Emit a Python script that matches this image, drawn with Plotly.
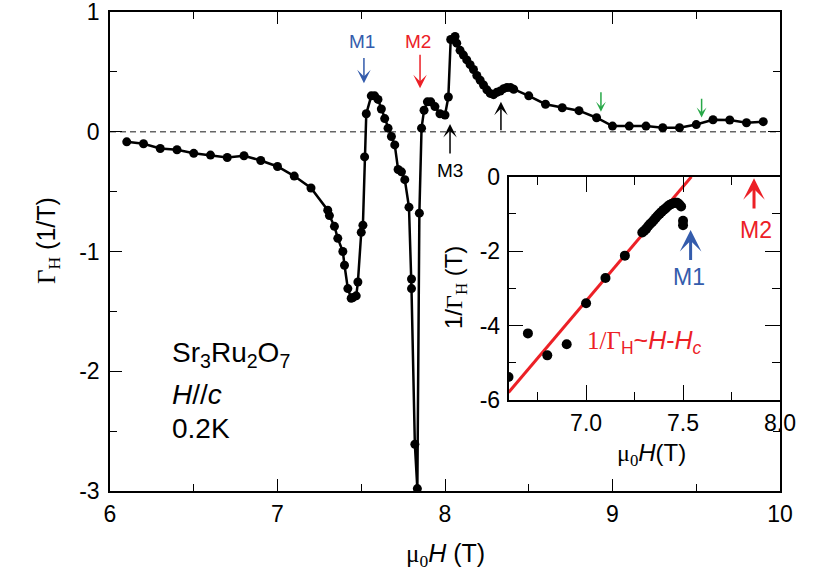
import plotly.graph_objects as go

# ---------------- main panel data ----------------
h_main = [6.10, 6.20, 6.30, 6.40, 6.50, 6.60, 6.70, 6.80, 6.90, 7.00, 7.10, 7.20,
          7.30, 7.31, 7.34, 7.36, 7.39, 7.40, 7.42, 7.44, 7.45, 7.47, 7.48,
          7.50, 7.51, 7.52, 7.53,
          7.56, 7.58, 7.60, 7.62, 7.64, 7.66, 7.68, 7.70,
          7.72, 7.74, 7.76,
          7.785, 7.80, 7.80, 7.82, 7.835, 7.847,
          7.86, 7.875, 7.895, 7.915, 7.94, 7.97, 8.00, 8.02, 8.034, 8.06,
          8.07, 8.09, 8.11, 8.13, 8.15, 8.17, 8.19, 8.21, 8.23, 8.25, 8.27, 8.29,
          8.31, 8.33, 8.35, 8.37, 8.39, 8.41,
          8.50, 8.60, 8.70, 8.80, 8.905,
          9.00, 9.10, 9.20, 9.30, 9.40, 9.50, 9.60, 9.70, 9.80, 9.90]
gamma_main = [-0.084, -0.10, -0.14, -0.15, -0.18, -0.195, -0.215, -0.20, -0.24, -0.29, -0.37, -0.47,
              -0.655, -0.70, -0.79, -0.89, -1.00, -1.115, -1.31, -1.39, -1.385, -1.37, -1.255,
              -0.84, -0.78, -0.21, 0.15,
              0.30, 0.30, 0.27, 0.19, 0.11, 0.03, -0.04, -0.11,
              -0.315, -0.335, -0.40,
              -0.63, -1.23, -1.31, -2.61, -2.98, -0.68,
              0.03, 0.18, 0.25, 0.25, 0.21, 0.15, 0.14, 0.29, 0.77, 0.795,
              0.74, 0.68, 0.64, 0.60, 0.56, 0.52, 0.47, 0.43, 0.39, 0.35, 0.32, 0.31,
              0.33, 0.34, 0.36, 0.37, 0.37, 0.355,
              0.30, 0.23, 0.20, 0.176, 0.117,
              0.047, 0.047, 0.047, 0.033, 0.033, 0.06, 0.10, 0.098, 0.075, 0.084]

main_x_ticks = [6, 7, 8, 9, 10]
main_x_ticktext = ["6", "7", "8", "9", "10"]
main_y_ticks = [1, 0, -1, -2, -3]
main_y_ticktext = ["1", "0", "-1", "-2", "-3"]

# ---------------- inset data ----------------
h_inset = [6.60, 6.70, 6.80, 6.90, 7.00, 7.10, 7.20,
           7.29, 7.30, 7.31, 7.32, 7.33, 7.34, 7.35, 7.36, 7.37, 7.38, 7.39, 7.40,
           7.41, 7.42, 7.43, 7.44, 7.45, 7.46, 7.47, 7.48, 7.49, 7.50, 7.50]
inv_gamma_inset = [-5.38, -4.21, -4.80, -4.50, -3.40, -2.72, -2.12,
                   -1.50, -1.45, -1.40, -1.33, -1.27, -1.22, -1.16, -1.10, -1.04, -0.99, -0.94, -0.89,
                   -0.85, -0.80, -0.76, -0.73, -0.71, -0.70, -0.70, -0.74, -0.80, -1.18, -1.30]
fit_h = [6.60, 7.543]
fit_inv_gamma = [-5.80, 0.0]

inset_x_ticks = [7.0, 7.5, 8.0]
inset_x_ticktext = ["7.0", "7.5", "8.0"]
inset_y_ticks = [0, -2, -4, -6]
inset_y_ticktext = ["0", "-2", "-4", "-6"]

BLUE = "rgb(52,92,172)"
RED = "rgb(236,32,38)"
GREEN = "rgb(40,168,72)"
FONT = "Liberation Sans, Arial, sans-serif"
SERIF = "Liberation Serif, Times New Roman, serif"

fig = go.Figure()

fig.add_trace(go.Scatter(
    x=h_main, y=gamma_main, mode="lines+markers",
    line=dict(color="black", width=2.5),
    marker=dict(color="black", size=9),
    xaxis="x", yaxis="y", showlegend=False))

fig.add_trace(go.Scatter(
    x=fit_h, y=fit_inv_gamma, mode="lines",
    line=dict(color=RED, width=3),
    xaxis="x2", yaxis="y2", showlegend=False))

fig.add_trace(go.Scatter(
    x=h_inset, y=inv_gamma_inset, mode="markers",
    marker=dict(color="black", size=10),
    xaxis="x2", yaxis="y2", showlegend=False))

axis_common = dict(showline=True, linecolor="black", linewidth=1.6, mirror="ticks",
                   ticks="inside", tickcolor="black", tickwidth=1.3,
                   showgrid=False, zeroline=False, automargin=False,
                   ticklabeloverflow="allow",
                   tickfont=dict(family=FONT, size=23, color="black"))

fig.update_layout(
    template="none",
    width=830, height=587,
    margin=dict(l=110, r=50, t=12, b=96, autoexpand=False),
    paper_bgcolor="white", plot_bgcolor="white",
    font=dict(family=FONT, color="black"),
    showlegend=False,
    xaxis=dict(range=[6, 10], tickvals=main_x_ticks, ticktext=main_x_ticktext,
               ticklen=12, ticklabelstandoff=2,
               minor=dict(dtick=0.5, tick0=6, ticks="inside", ticklen=7, tickcolor="black", tickwidth=1.3),
               domain=[0, 1], anchor="y", **axis_common),
    yaxis=dict(range=[-3, 1], tickvals=main_y_ticks, ticktext=main_y_ticktext,
               ticklen=12, ticklabelstandoff=4,
               minor=dict(dtick=0.5, tick0=0, ticks="inside", ticklen=7, tickcolor="black", tickwidth=1.3),
               domain=[0, 1], anchor="x", **axis_common),
    xaxis2=dict(range=[6.6, 8.0], tickvals=inset_x_ticks, ticktext=inset_x_ticktext,
                ticklen=15, ticklabelstandoff=2,
                minor=dict(dtick=0.25, tick0=7.0, ticks="inside", ticklen=8, tickcolor="black", tickwidth=1.3),
                domain=[0.5948, 1.0], anchor="y2", **axis_common),
    yaxis2=dict(range=[-6, 0], tickvals=inset_y_ticks, ticktext=inset_y_ticktext,
                ticklen=15, ticklabelstandoff=2,
                minor=dict(dtick=1, tick0=0, ticks="inside", ticklen=8, tickcolor="black", tickwidth=1.3),
                domain=[0.190, 0.656], anchor="x2", **axis_common),
)

# dashed zero line
fig.add_shape(type="line", xref="x", yref="y", x0=6, x1=10, y0=0, y1=0,
              line=dict(color="#666666", width=1.3, dash="6px,4px"), layer="below")

ann = []
# axis titles
ann.append(dict(xref="paper", yref="paper", x=0.5, y=-0.1336, xanchor="center", yanchor="middle",
                text=f"<span style='font-family:{SERIF}'>μ<sub>0</sub></span><i>H</i> (T)",
                showarrow=False, font=dict(family=FONT, size=25, color="black")))
ann.append(dict(xref="paper", yref="paper", x=-0.0925, y=0.522, xanchor="center", yanchor="middle",
                textangle=-90,
                text=f"<span style='font-family:{SERIF}'>Γ<sub>H</sub></span> (1/T)",
                showarrow=False, font=dict(family=FONT, size=25, color="black")))
ann.append(dict(xref="paper", yref="paper", x=0.8075, y=0.0752, xanchor="center", yanchor="middle",
                text=f"<span style='font-family:{SERIF}'>μ<sub>0</sub></span><i>H</i>(T)",
                showarrow=False, font=dict(family=FONT, size=24, color="black")))
ann.append(dict(xref="paper", yref="paper", x=0.5164, y=0.4259, xanchor="center", yanchor="middle",
                textangle=-90,
                text=f"1/<span style='font-family:{SERIF}'>Γ<sub>H</sub></span> (T)",
                showarrow=False, font=dict(family=FONT, size=24, color="black")))

# sample text
for txt, yv in [("Sr<sub>3</sub>Ru<sub>2</sub>O<sub>7</sub>", -1.86), ("<i>H</i>//<i>c</i>", -2.19), ("0.2K", -2.475)]:
    ann.append(dict(xref="x", yref="y", x=6.358, y=yv, xanchor="left", yanchor="middle",
                    text=txt, showarrow=False, font=dict(family=FONT, size=28, color="black")))

# main labels
for txt, xv, yv, col in [("M1", 7.503, 0.753, BLUE), ("M2", 7.841, 0.753, RED), ("M3", 8.03, -0.32, "black")]:
    ann.append(dict(xref="x", yref="y", x=xv, y=yv, text=txt, showarrow=False,
                    xanchor="center", yanchor="middle", font=dict(family=FONT, size=19, color=col)))

# main arrows (tip x,y ; tail ax,ay)
for xv, tip, tail, col, sz in [(7.516, 0.405, 0.628, BLUE, 1.5), (7.851, 0.363, 0.656, RED, 1.5),
                               (8.030, 0.064, -0.195, "black", 1.5), (8.334, 0.251, 0.0, "black", 1.5),
                               (8.931, 0.167, 0.343, GREEN, 1.1), (9.532, 0.120, 0.288, GREEN, 1.1)]:
    ann.append(dict(xref="x", yref="y", axref="x", ayref="y", x=xv, y=tip, ax=xv, ay=tail,
                    text="", showarrow=True, arrowhead=3, arrowsize=sz, arrowwidth=1.5,
                    arrowcolor=col, standoff=0, startstandoff=0))

# inset labels and arrows
ann.append(dict(xref="x2", yref="y2", x=7.53, y=-2.69, text="M1", showarrow=False,
                font=dict(family=FONT, size=23, color=BLUE)))
ann.append(dict(xref="x2", yref="y2", x=7.875, y=-1.43, text="M2", showarrow=False,
                font=dict(family=FONT, size=23, color=RED)))
for xv, tip, tail, col in [(7.539, -1.43, -2.28, BLUE), (7.866, -0.04, -0.895, RED)]:
    ann.append(dict(xref="x2", yref="y2", axref="x2", ayref="y2", x=xv, y=tip, ax=xv, ay=tail,
                    text="", showarrow=True, arrowhead=3, arrowsize=1.2, arrowwidth=3,
                    arrowcolor=col, standoff=0, startstandoff=0))
ann.append(dict(xref="x2", yref="y2", x=7.30, y=-4.45, xanchor="center", yanchor="middle",
                text=f"<span style='font-family:{SERIF}'>1/Γ</span><sub>H</sub>~<i>H</i>-<i>H<sub>c</sub></i>",
                showarrow=False, font=dict(family=FONT, size=25, color=RED)))

fig.update_layout(annotations=ann)

# remove the default 8px page margin so the figure sits at the window origin
fig.write_html("out.html", config={"displayModeBar": False},
               post_script="document.body.style.margin='0';")
